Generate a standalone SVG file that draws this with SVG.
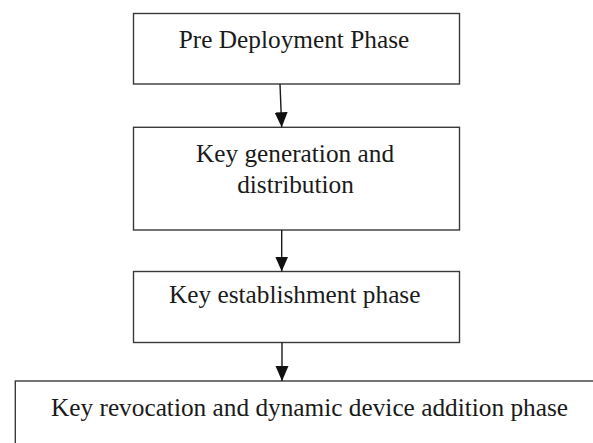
<svg xmlns="http://www.w3.org/2000/svg" width="593" height="443" viewBox="0 0 593 443">
<style>
.box{fill:#fff;stroke:#3a3a3a;stroke-width:1.4}
.t{font-family:"Liberation Serif","Times New Roman",serif;font-size:25.3px;fill:#1a1a1a;text-anchor:middle}
.c{stroke:#1a1a1a;stroke-width:1.4;fill:none}
</style>
<defs>
<marker id="ah" markerUnits="userSpaceOnUse" markerWidth="16" markerHeight="16" refX="15" refY="6.5" orient="auto">
<path d="M0,0 L15,6.5 L0,13 Z" fill="#111"/>
</marker>
</defs>
<rect width="593" height="443" fill="#fff"/>
<g id="n1"><rect class="box" x="133.5" y="13.5" width="326" height="70.5"/><text class="t" x="294" y="47.7">Pre Deployment Phase</text></g>
<g id="n2"><rect class="box" x="133.5" y="127.3" width="326" height="102.7"/><text class="t" x="295" y="161.7">Key generation and</text><text class="t" x="295.5" y="192.7">distribution</text></g>
<g id="n3"><rect class="box" x="133.5" y="271.5" width="326" height="71"/><text class="t" x="294.7" y="303.3">Key establishment phase</text></g>
<g id="n4"><rect class="box" x="15.3" y="381" width="600" height="80"/><text class="t" x="309.5" y="415.5">Key revocation and dynamic device addition phase</text></g>
<g id="connectors">
<line class="c" x1="280" y1="84" x2="281.7" y2="127.3" marker-end="url(#ah)"/>
<line class="c" x1="281.7" y1="230" x2="281.7" y2="271.5" marker-end="url(#ah)"/>
<line class="c" x1="282" y1="342.5" x2="282" y2="381" marker-end="url(#ah)"/>
</g>
</svg>
